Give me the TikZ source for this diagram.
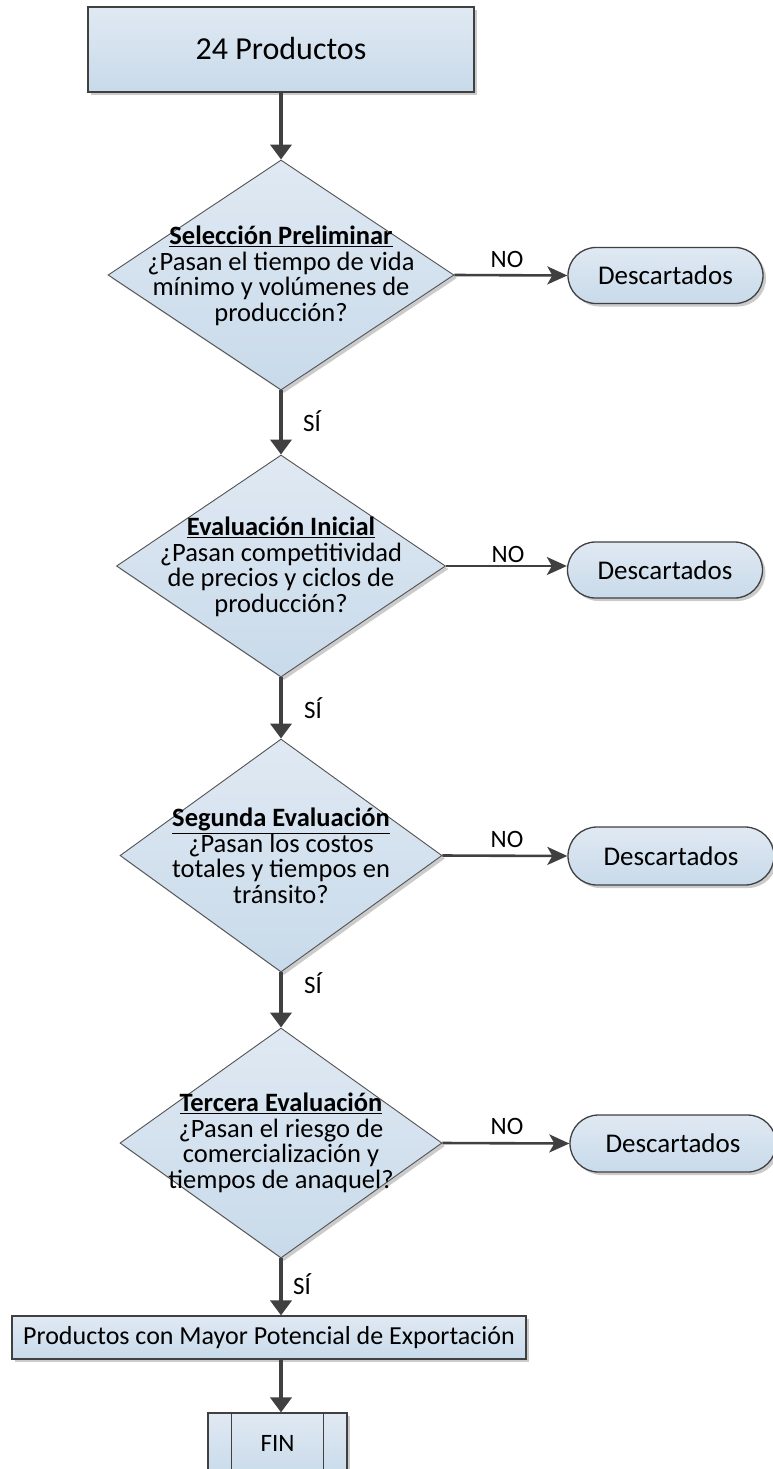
\documentclass[tikz,border=0pt]{standalone}
\usepackage{fontspec}
\setmainfont{Carlito}
\usetikzlibrary{shapes.geometric,shapes.misc,arrows.meta,shadows}
\definecolor{fillA}{HTML}{E0E9F3}
\definecolor{fillB}{HTML}{C8DAEA}
\definecolor{edge}{HTML}{404040}
\begin{document}
\begin{tikzpicture}[x=1pt,y=-1pt,
  bluefill/.style={top color=fillA,bottom color=fillB,
    drop shadow={shadow xshift=3pt,shadow yshift=-3pt,fill=black!45,opacity=0.45}},
  boxnode/.style={bluefill,draw=edge,line width=1.8pt,rectangle,inner sep=0pt},
  decnode/.style={bluefill,draw=edge!90,line width=0.9pt,diamond,inner sep=0pt},
  pillnode/.style={bluefill,draw=edge,line width=1.3pt,rounded rectangle,inner sep=0pt,
    minimum width=195pt,minimum height=56pt,font=\fontsize{27}{29}\selectfont},
  qtext/.style={align=center,inner sep=0pt,font=\fontsize{26.5}{25.5}\selectfont},
  lbl/.style={inner sep=0pt,font=\fontsize{25}{27}\selectfont},
  varrow/.style={draw=edge,line width=3.8pt,-{Triangle[width=21pt,length=15pt]}},
  harrow/.style={draw=edge,line width=2.6pt,-{Stealth[width=18pt,length=20pt,inset=5pt]}}
]
\useasboundingbox (0,0) rectangle (772,1469);

% start box
\node[boxnode,minimum width=386pt,minimum height=85pt] (start) at (281,49.5) {};
\node[inner sep=0pt,font=\fontsize{32}{34}\selectfont] (starttxt) at (281,49) {24 Productos};

% decisions
\node[decnode,minimum width=346pt,minimum height=230pt] (d1) at (281,275) {};
\node[qtext] (t1) at (281,276) {\underline{\textbf{Selección Preliminar}}\\¿Pasan el tiempo de vida\\mínimo y volúmenes de\\producción?};

\node[decnode,minimum width=329pt,minimum height=222pt] (d2) at (281,566) {};
\node[qtext] (t2) at (281,567) {\underline{\textbf{Evaluación Inicial}}\\¿Pasan competitividad\\de precios y ciclos de\\producción?};

\node[decnode,minimum width=322pt,minimum height=233pt] (d3) at (281,855.5) {};
\node[qtext] (t3) at (281,856) {\underline{\textbf{Segunda Evaluación}}\\¿Pasan los costos\\totales y tiempos en\\tránsito?};

\node[decnode,minimum width=322pt,minimum height=230pt] (d4) at (281,1143) {};
\node[qtext] (t4) at (281,1143) {\underline{\textbf{Tercera Evaluación}}\\¿Pasan el riesgo de\\comercialización y\\tiempos de anaquel?};

% discarded
\node[pillnode] (r1) at (665.5,275.5) {Descartados};
\node[pillnode] (r2) at (665,570) {Descartados};
\node[pillnode,minimum width=206pt,minimum height=58pt] (r3) at (671,856) {Descartados};
\node[pillnode,minimum width=206pt,minimum height=57pt] (r4) at (673,1143.5) {Descartados};

% result
\node[boxnode,line width=1.2pt,minimum width=514pt,minimum height=43pt,
  font=\fontsize{26}{28}\selectfont] (res) at (269,1337.5) {Productos con Mayor Potencial de Exportación};

% end
\node[boxnode,line width=1.2pt,minimum width=139pt,minimum height=66pt] (fin) at (277.5,1446) {};
\node[inner sep=0pt,font=\fontsize{25}{27}\selectfont] (fintxt) at (277.5,1443) {FIN};
\draw[edge,line width=1.2pt] ([xshift=24pt]fin.north west) -- ([xshift=24pt]fin.south west);
\draw[edge,line width=1.2pt] ([xshift=-24pt]fin.north east) -- ([xshift=-24pt]fin.south east);

% vertical arrows
\draw[varrow] (start.south) -- (d1.north);
\draw[varrow] (d1.south) -- (d2.north);
\draw[varrow] (d2.south) -- (d3.north);
\draw[varrow] (d3.south) -- (d4.north);
\draw[varrow] (d4.south) -- (res.north -| d4.south);
\draw[varrow] (res.south -| d4.south) -- (fin.north -| d4.south);

% horizontal arrows
\draw[harrow] (d1.east) -- (r1.west);
\draw[harrow] (d2.east) -- (d2.east -| r2.west);
\draw[harrow] (d3.east) -- (r3.west);
\draw[harrow] (d4.east) -- (r4.west);

% labels
\node[lbl] (no1) at (507,259) {NO};
\node[lbl] (no2) at (508,554) {NO};
\node[lbl] (no3) at (507,839) {NO};
\node[lbl] (no4) at (507,1126) {NO};
\node[lbl] (si1) at (312,421) {SÍ};
\node[lbl] (si2) at (313,708) {SÍ};
\node[lbl] (si3) at (313,983) {SÍ};
\node[lbl] (si4) at (302,1284) {SÍ};
\end{tikzpicture}
\end{document}
